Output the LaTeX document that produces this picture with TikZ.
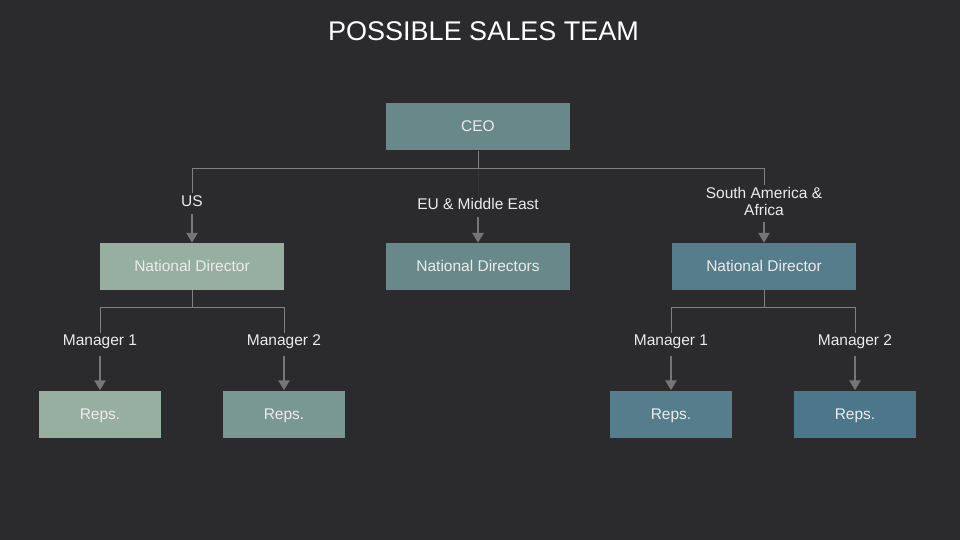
\documentclass[tikz,border=0pt]{standalone}
\usepackage{fontspec}
\setmainfont{Liberation Sans}
\usetikzlibrary{arrows.meta}
\definecolor{bgdark}{RGB}{43,43,45}
\definecolor{boxsage}{RGB}{150,175,161}
\definecolor{boxsagedk}{RGB}{122,152,146}
\definecolor{boxteal}{RGB}{104,136,137}
\definecolor{boxblue}{RGB}{86,125,140}
\definecolor{boxbluedk}{RGB}{76,118,138}
\definecolor{linegray}{RGB}{128,128,128}
\definecolor{arrowgray}{RGB}{118,118,118}
\begin{document}
\begin{tikzpicture}[x=1pt, y=-1pt,
			box/.style={
				rectangle,
				minimum width = 184pt,
				minimum height = 47pt,
				inner sep = 0pt,
				text height = 12pt,
				text depth = 2pt,
				font = \fontsize{15.5}{17}\selectfont,
				text = white!92!black},
			rep/.style={
				box,
				minimum width = 122pt},
			tag/.style={
				align = center,
				inner sep = 2pt,
				font = \fontsize{15.5}{17}\selectfont,
				text = white!92!black},
			link/.style={linegray, line width = 1pt},
			arr/.style={arrowgray, line width = 2.6pt, shorten < = 5pt,
				-{Triangle[width = 11pt, length = 10pt]}}]
			\useasboundingbox[fill=bgdark] (0, 0) rectangle (960, 540);
			\node (title) at (483.5, 31) [text = white, font = \fontsize{27}{30}\selectfont] {POSSIBLE SALES TEAM};
			% boxes
			\node (ceo) at (478, 127) [box, fill = boxteal] {CEO};
			\node (ndUS) at (192, 266.5) [box, fill = boxsage] {National Director};
			\node (ndEU) at (478, 266.5) [box, fill = boxteal] {National Directors};
			\node (ndSA) at (764, 266.5) [box, fill = boxblue] {National Director};
			\node (repA) at (100, 414) [rep, fill = boxsage] {Reps.};
			\node (repB) at (284, 414) [rep, fill = boxsagedk] {Reps.};
			\node (repC) at (671, 414) [rep, fill = boxblue] {Reps.};
			\node (repD) at (855, 414) [rep, fill = boxbluedk] {Reps.};
			% labels
			\node (tUS) at (192, 201) [tag] {US};
			\node (tEU) at (478, 204) [tag] {EU \& Middle East};
			\node (tSA) at (764, 201) [tag] {South America \&\\Africa};
			\node (tMA) at (100, 342) [tag] {Manager 1};
			\node (tMB) at (284, 342) [tag] {Manager 2};
			\node (tMC) at (671, 342) [tag] {Manager 1};
			\node (tMD) at (855, 342) [tag] {Manager 2};
			% tree lines
			\draw[link] (ceo.south) -- ++(0, 18) coordinate (hubTop);
			\draw[link] (hubTop) -| (tUS.north);
			\draw[link] (hubTop) -| (tSA.north);
			\draw[black!80, line width = 1pt] (hubTop) -- (tEU.north);
			\draw[link] (ndUS.south) -- ++(0, 17) coordinate (hubUS);
			\draw[link] (hubUS) -| (tMA.north);
			\draw[link] (hubUS) -| (tMB.north);
			\draw[link] (ndSA.south) -- ++(0, 17) coordinate (hubSA);
			\draw[link] (hubSA) -| (tMC.north);
			\draw[link] (hubSA) -| (tMD.north);
			% arrows
			\draw[arr] (tUS) -- (ndUS);
			\draw[arr] (tEU) -- (ndEU);
			\draw[arr] (tSA) -- (ndSA);
			\draw[arr] (tMA) -- (repA);
			\draw[arr] (tMB) -- (repB);
			\draw[arr] (tMC) -- (repC);
			\draw[arr] (tMD) -- (repD);
		\end{tikzpicture}
\end{document}
